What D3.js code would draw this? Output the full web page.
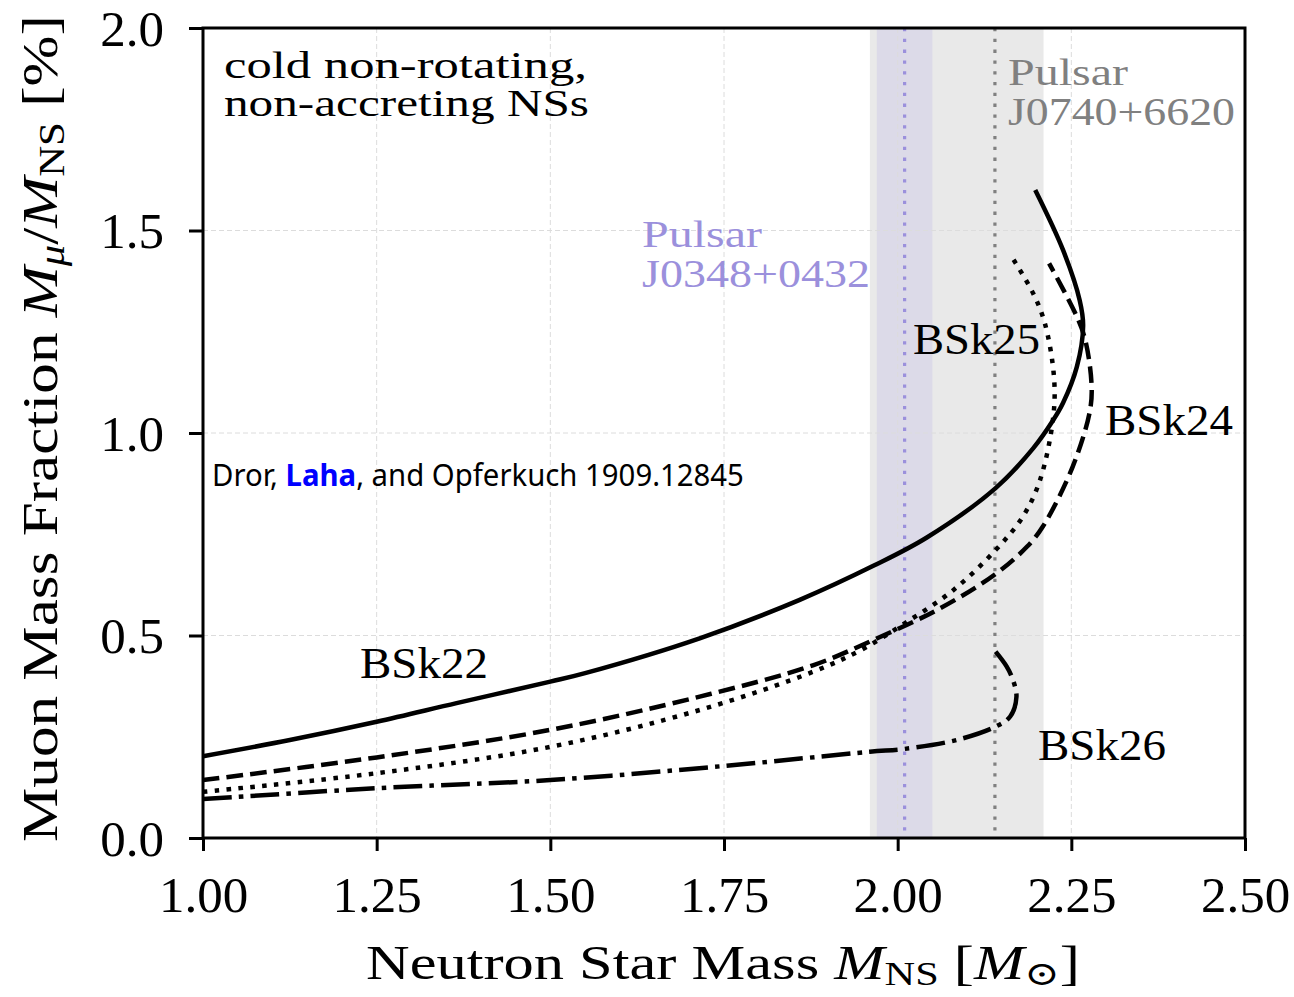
<!DOCTYPE html>
<html>
<head>
<meta charset="utf-8">
<script src="https://cdn.jsdelivr.net/npm/d3@7"></script>
<style>
  html, body { margin: 0; padding: 0; background: #ffffff; }
  svg { display: block; }
</style>
</head>
<body>
<svg id="chart" width="1294" height="997"></svg>
<script>
// ---------- data ----------
const xTickValues = [1.00, 1.25, 1.50, 1.75, 2.00, 2.25, 2.50];
const yTickValues = [0.0, 0.5, 1.0, 1.5, 2.0];

// BSk22 (solid)
const bsk22Mass = [1.00, 1.125, 1.25, 1.365, 1.50, 1.55, 1.715, 1.859, 1.965, 2.042, 2.141, 2.195, 2.224, 2.238, 2.258, 2.267, 2.262, 2.238, 2.198];
const bsk22Frac = [0.202, 0.242, 0.287, 0.333, 0.386, 0.407, 0.493, 0.588, 0.672, 0.742, 0.864, 0.962, 1.032, 1.074, 1.164, 1.265, 1.328, 1.452, 1.600];
// BSk24 (dashed)
const bsk24Mass = [1.00, 1.25, 1.50, 1.715, 1.879, 1.965, 2.061, 2.141, 2.186, 2.209, 2.252, 2.277, 2.279, 2.270, 2.258, 2.218];
const bsk24Frac = [0.143, 0.199, 0.267, 0.349, 0.427, 0.489, 0.567, 0.652, 0.719, 0.769, 0.917, 1.057, 1.123, 1.230, 1.287, 1.419];
// BSk25 (dotted)
const bsk25Mass = [1.00, 1.25, 1.50, 1.715, 1.879, 1.947, 2.01, 2.08, 2.141, 2.18, 2.205, 2.224, 2.225, 2.212, 2.195, 2.166];
const bsk25Frac = [0.114, 0.160, 0.225, 0.316, 0.411, 0.464, 0.530, 0.612, 0.711, 0.793, 0.884, 1.040, 1.139, 1.270, 1.345, 1.430];
// BSk26 (dash-dot)
const bsk26Mass = [1.00, 1.25, 1.50, 1.751, 1.96, 2.01, 2.085, 2.141, 2.162, 2.171, 2.166, 2.157, 2.141];
const bsk26Frac = [0.096, 0.123, 0.143, 0.178, 0.213, 0.220, 0.242, 0.275, 0.300, 0.349, 0.390, 0.423, 0.460];

// pulsar mass measurements
const pulsarNames = ["J0348+0432", "J0740+6620"];
const pulsarMass = [2.01, 2.14];
const pulsarLow = [1.97, 1.96];
const pulsarHigh = [2.05, 2.21];

// ---------- layout ----------
const svg = d3.select("#chart");
const serif = "'Liberation Serif', 'DejaVu Serif', serif";
const L = 203, R = 1245, T = 28, B = 838;
const x = d3.scaleLinear().domain([1.0, 2.5]).range([L, R]);
const y = d3.scaleLinear().domain([0, 2.0]).range([B, T]);

function fitWidth(sel, w) {
  const bw = sel.node().getBBox().width;
  sel.attr("transform", `scale(${w / bw},1)`);
}

// bands (gray J0740 wider, purple J0348 on top)
const bandColors = ["#dcdae8", "#e9e9e9"];
[1, 0].forEach(i => {
  svg.append("rect")
    .attr("x", x(pulsarLow[i])).attr("y", T)
    .attr("width", x(pulsarHigh[i]) - x(pulsarLow[i]))
    .attr("height", B - T)
    .attr("fill", bandColors[i]);
});

// grid
const grid = svg.append("g").attr("stroke", "#dcdcdc").attr("stroke-width", 1).attr("stroke-dasharray", "5,3");
xTickValues.forEach(v => grid.append("line").attr("x1", x(v)).attr("x2", x(v)).attr("y1", T).attr("y2", B));
yTickValues.forEach(v => grid.append("line").attr("x1", L).attr("x2", R).attr("y1", y(v)).attr("y2", y(v)));

// pulsar vertical dotted lines
const pulsarColors = ["#9b90dc", "#808080"];
pulsarMass.forEach((m, i) => {
  svg.append("line")
    .attr("x1", x(m)).attr("x2", x(m)).attr("y1", T).attr("y2", B)
    .attr("stroke", pulsarColors[i]).attr("stroke-width", 3.2)
    .attr("stroke-dasharray", "3.3,7.5");
});

// curves
const line = d3.line().x(d => x(d[0])).y(d => y(d[1])).curve(d3.curveCatmullRom.alpha(0.5));
const series = [
  { m: bsk22Mass, f: bsk22Frac, dash: null },
  { m: bsk24Mass, f: bsk24Frac, dash: "16.6,7.2" },
  { m: bsk25Mass, f: bsk25Frac, dash: "4.5,7.4" },
  { m: bsk26Mass, f: bsk26Frac, dash: "28.8,7.2,4.5,7.2" }
];
series.forEach(s => {
  svg.append("path")
    .attr("d", line(d3.zip(s.m, s.f)))
    .attr("fill", "none").attr("stroke", "#000")
    .attr("stroke-width", 4.5)
    .attr("stroke-linecap", "butt")
    .attr("stroke-dasharray", s.dash);
});

// axes
const xAxis = svg.append("g").attr("transform", `translate(0,${B})`)
  .call(d3.axisBottom(x).tickValues(xTickValues).tickSize(13).tickFormat(d3.format(".2f")));
const yAxis = svg.append("g").attr("transform", `translate(${L},0)`)
  .call(d3.axisLeft(y).tickValues(yTickValues).tickSize(14).tickFormat(d3.format(".1f")));
[xAxis, yAxis].forEach(a => {
  a.select(".domain").remove();
  a.selectAll(".tick line").attr("stroke", "#000").attr("stroke-width", 3);
  a.selectAll(".tick text").attr("font-family", serif).attr("font-size", 51).attr("fill", "#000");
});
xAxis.selectAll(".tick text").attr("dy", null).attr("y", 74);
yAxis.selectAll(".tick text").attr("dy", null).attr("x", -39).attr("y", 17);

// frame
svg.append("rect").attr("x", L).attr("y", T).attr("width", R - L).attr("height", B - T)
  .attr("fill", "none").attr("stroke", "#000").attr("stroke-width", 3);

// axis labels
function mathLabel(g, parts, size) {
  const t = g.append("text").attr("font-family", serif).attr("font-size", size).attr("fill", "#000");
  parts.forEach(p => {
    const ts = t.append("tspan").text(p.t);
    if (p.i) ts.attr("font-style", "italic");
    if (p.sub) ts.attr("font-size", size * 0.7).attr("dy", size * 0.13);
    if (p.up) ts.attr("dy", -size * 0.13);
  });
  return t;
}
const xl = svg.append("g").attr("transform", "translate(366,979)");
const xlt = mathLabel(xl, [
  { t: "Neutron Star Mass " }, { t: "M", i: 1 }, { t: "NS", sub: 1 },
  { t: " [", up: 1 }, { t: "M", i: 1 }, { t: "\u2299", sub: 1 }, { t: "]", up: 1 }
], 48);
fitWidth(xlt, 714);

const yl = svg.append("g").attr("transform", "translate(57,842) rotate(-90)");
const ylt = mathLabel(yl, [
  { t: "Muon Mass Fraction " }, { t: "M", i: 1 }, { t: "\u03bc", sub: 1, i: 1 },
  { t: "/", up: 1 }, { t: "M", i: 1 }, { t: "NS", sub: 1 }, { t: " [%]", up: 1 }
], 50);
fitWidth(ylt, 827);

// annotations
function label(txt, x0, yb, w, size, color) {
  const g = svg.append("g").attr("transform", `translate(${x0},${yb})`);
  const t = g.append("text").attr("font-family", serif).attr("font-size", size)
    .attr("fill", color || "#000").text(txt);
  fitWidth(t, w);
  return t;
}
label("cold non-rotating,", 224, 78, 363, 38);
label("non-accreting NSs", 224, 116, 365, 38);
label("BSk22", 360, 678, 128, 44);
label("BSk25", 913, 354, 127, 44);
label("BSk24", 1105, 435, 128, 44);
label("BSk26", 1038, 760, 128, 44);
label("Pulsar", 642, 247, 120, 39, pulsarColors[0]);
label(pulsarNames[0], 642, 287, 228, 39, pulsarColors[0]);
label("Pulsar", 1008, 85, 120, 39, pulsarColors[1]);
label(pulsarNames[1], 1008, 125, 227, 39, pulsarColors[1]);

// credit line
const cg = svg.append("g").attr("transform", "translate(212,486)");
const ct = cg.append("text").attr("font-family", "'Comic Sans MS', 'Noto Sans', sans-serif")
  .attr("font-size", 30).attr("fill", "#000");
ct.append("tspan").text("Dror, ");
ct.append("tspan").text("Laha").attr("font-weight", "bold").attr("fill", "#0000ff");
ct.append("tspan").text(", and Opferkuch 1909.12845");
fitWidth(ct, 532);
</script>
</body>
</html>
